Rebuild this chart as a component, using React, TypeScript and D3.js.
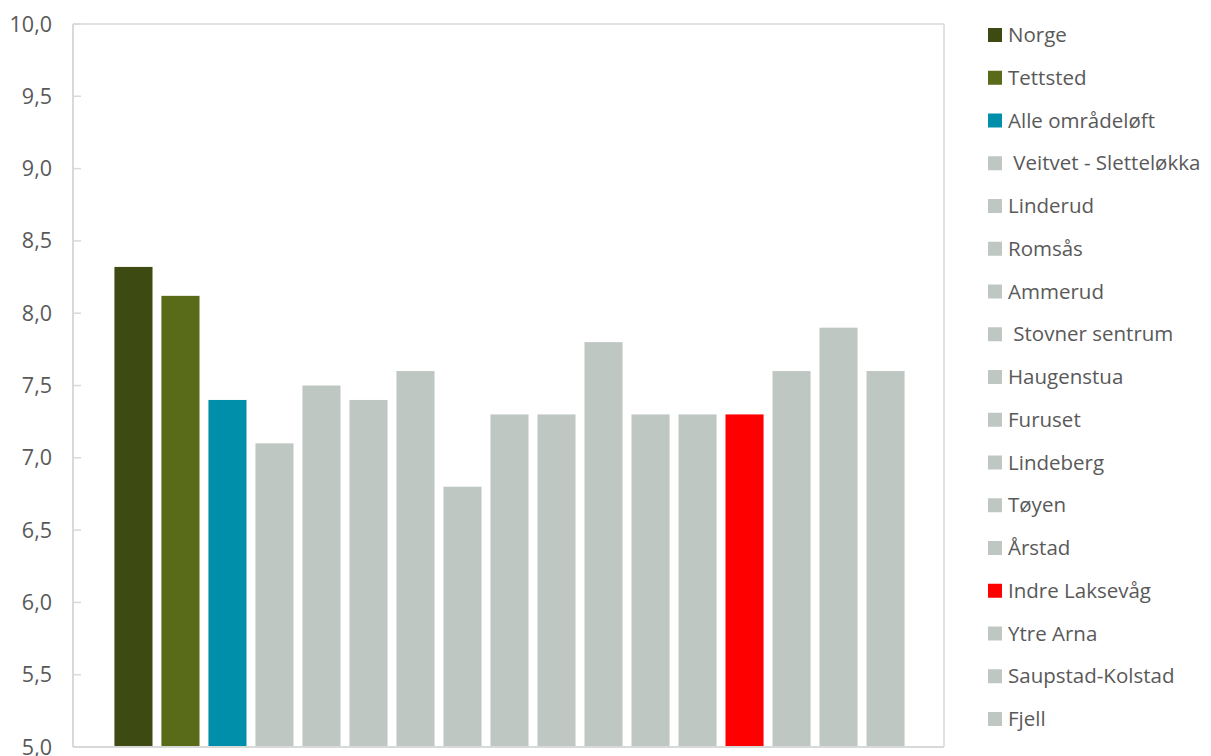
import React from "react";
import * as d3 from "d3";

const categories = [
  "Norge",
  "Tettsted",
  "Alle områdeløft",
  " Veitvet - Sletteløkka",
  "Linderud",
  "Romsås",
  "Ammerud",
  " Stovner sentrum",
  "Haugenstua",
  "Furuset",
  "Lindeberg",
  "Tøyen",
  "Årstad",
  "Indre Laksevåg",
  "Ytre Arna",
  "Saupstad-Kolstad",
  "Fjell",
];
const values = [8.32, 8.12, 7.4, 7.1, 7.5, 7.4, 7.6, 6.8, 7.3, 7.3, 7.8, 7.3, 7.3, 7.3, 7.6, 7.9, 7.6];
const colors = [
  "#3d4a12",
  "#596a19",
  "#008faa",
  "#bfc7c3",
  "#bfc7c3",
  "#bfc7c3",
  "#bfc7c3",
  "#bfc7c3",
  "#bfc7c3",
  "#bfc7c3",
  "#bfc7c3",
  "#bfc7c3",
  "#bfc7c3",
  "#ff0000",
  "#bfc7c3",
  "#bfc7c3",
  "#bfc7c3",
];
const yTicks = [5, 5.5, 6, 6.5, 7, 7.5, 8, 8.5, 9, 9.5, 10];

export default function App() {
  const W = 1211;
  const H = 756;
  const left = 73;
  const right = 944;
  const top = 24;
  const bottom = 747;

  const x = d3
    .scaleBand<string>()
    .domain(categories)
    .range([left + 1, right + 1])
    .paddingInner(0.19)
    .paddingOuter(0.86);
  const y = d3.scaleLinear().domain([5, 10]).range([bottom, top]);
  const fmt = (v: number) => v.toFixed(1).replace(".", ",");
  const font = "Open Sans, sans-serif";
  const legY = d3.scalePoint<string>().domain(categories).range([35, 719]);

  return (
    <svg
      width={W}
      height={H}
      style={{ position: "absolute", left: 0, top: 0, background: "#fff" }}
    >
      {/* frame */}
      <line x1={left} x2={right} y1={top} y2={top} stroke="#d9d9d9" strokeWidth={1.5} />
      <line x1={right} x2={right} y1={top} y2={bottom} stroke="#d9d9d9" strokeWidth={1.5} />
      {/* bars */}
      {categories.map((c, i) => (
        <rect
          key={c}
          x={x(c)}
          y={y(values[i])}
          width={x.bandwidth()}
          height={y(5) - y(values[i])}
          fill={colors[i]}
        />
      ))}
      {/* axes */}
      <line x1={left} x2={left} y1={top} y2={bottom} stroke="#d9d9d9" strokeWidth={2} />
      <line x1={left} x2={right} y1={bottom} y2={bottom} stroke="#d9d9d9" strokeWidth={2} />
      {yTicks.map((t) => (
        <g key={t}>
          <line x1={left} x2={left + 8} y1={y(t)} y2={y(t)} stroke="#d9d9d9" strokeWidth={1.5} />
          <text
            x={52}
            y={y(t)}
            dy="0.35em"
            textAnchor="end"
            fontFamily={font}
            fontSize={21.5}
            fill="#595959"
          >
            {fmt(t)}
          </text>
        </g>
      ))}
      {/* legend */}
      {categories.map((c, i) => (
        <g key={"l" + c}>
          <rect x={988} y={(legY(c) as number) - 7} width={14} height={14} fill={colors[i]} />
          <text
            x={1008}
            y={legY(c) as number}
            dy="0.35em"
            fontFamily={font}
            fontSize={20.5}
            fill="#595959"
            style={{ whiteSpace: "pre" }}
          >
            {c}
          </text>
        </g>
      ))}
    </svg>
  );
}
